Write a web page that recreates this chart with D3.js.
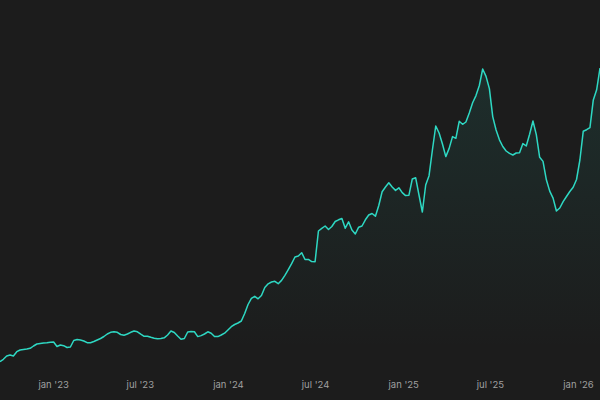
<!DOCTYPE html>
<html>
<head>
<meta charset="utf-8">
<script src="https://cdn.jsdelivr.net/npm/d3@7"></script>
<style>
  html, body { margin: 0; padding: 0; background: #1c1c1c; }
  svg { display: block; }
</style>
</head>
<body>
<svg id="chart" width="600" height="400"></svg>
<script>
// Weekly series, first week starting 2022-09-12
const startDate = "2022-09-12";
const values = [
  13.3, 15.7, 19, 20, 19, 23.3, 25, 25.5, 26, 26.7,
  29, 31, 31.5, 32, 32.3, 32.7, 33, 28.5, 30, 29.3,
  27.5, 28, 34.5, 35.5, 35, 34, 32.3, 32.3, 33.5, 35,
  36.5, 38.5, 41, 42.7, 43.3, 42.7, 40.5, 39.7, 41, 42.7,
  44, 43.2, 40.8, 38.7, 38.8, 37.7, 36.8, 36.2, 36.5, 37.2,
  40, 44, 42.5, 39, 35.8, 36.5, 43, 43.5, 43.2, 38.4,
  39.4, 41, 43.2, 41.8, 38.5, 38.4, 40, 41.8, 45, 48.3,
  50.5, 52, 54, 61.5, 70.5, 76.6, 78.7, 76.2, 79.5, 87.5,
  91.2, 93, 93.7, 91.3, 94.6, 99.6, 105.4, 111.3, 118, 119,
  122.3, 115.5, 115.6, 113.4, 113.3, 144, 146.7, 149, 145.5, 148.5,
  153.5, 155.2, 156.5, 146.8, 153.2, 145, 141, 147.8, 149, 155.2,
  160, 161.5, 158.8, 169.5, 183.2, 188, 192.2, 188, 184.6, 187.2,
  182.4, 179.4, 179.8, 196, 197.3, 180, 163, 190, 199.3, 225,
  249, 242, 231, 218.4, 226.6, 238.4, 236.7, 253.7, 250.7, 253,
  262.1, 272.2, 279.4, 289.5, 306, 298.6, 286.4, 258.4, 245, 235.2,
  228.5, 224, 221.6, 220, 222, 222.3, 231.4, 229, 240.8, 254,
  240.4, 217.7, 213.6, 195.2, 183.9, 176.9, 164, 167, 173.3, 178.5,
  183.5, 187.8, 195.5, 215, 243.7, 245.3, 247.3, 275.1, 285.2, 307
];
const tickMonths = ["2023-01-01", "2023-07-01", "2024-01-01", "2024-07-01", "2025-01-01", "2025-07-01", "2026-01-01"];

const parse = d3.timeParse("%Y-%m-%d");
const t0 = parse(startDate);
const data = values.map((v, i) => ({ date: d3.timeDay.offset(t0, i * 7), value: v }));

const W = 600, H = 400;
const svg = d3.select("#chart");

const x = d3.scaleTime()
  .domain(d3.extent(data, d => d.date))
  .range([0, W]);
const y = d3.scaleLinear()
  .domain([0, 300])
  .range([375, 75]);

svg.append("rect").attr("width", W).attr("height", H).attr("fill", "#1c1c1c");

const defs = svg.append("defs");
const grad = defs.append("linearGradient")
  .attr("id", "areaGrad")
  .attr("gradientUnits", "userSpaceOnUse")
  .attr("x1", 0).attr("x2", 0)
  .attr("y1", y(d3.max(values))).attr("y2", 350);
grad.append("stop").attr("offset", "0%").attr("stop-color", "#2dd4bf").attr("stop-opacity", 0.1);
grad.append("stop").attr("offset", "100%").attr("stop-color", "#2dd4bf").attr("stop-opacity", 0);

const area = d3.area()
  .x(d => x(d.date))
  .y0(375)
  .y1(d => y(d.value));
const line = d3.line()
  .x(d => x(d.date))
  .y(d => y(d.value));

svg.append("path").datum(data)
  .attr("d", area)
  .attr("fill", "url(#areaGrad)");

svg.append("path").datum(data)
  .attr("d", line)
  .attr("fill", "none")
  .attr("stroke", "#2ed8c3")
  .attr("stroke-width", 1.5)
  .attr("stroke-linejoin", "round");

const fmt = d3.timeFormat("%b '%y");
const axis = d3.axisBottom(x)
  .tickValues(tickMonths.map(parse))
  .tickFormat(d => fmt(d).toLowerCase())
  .tickSize(0)
  .tickPadding(0);

const g = svg.append("g").attr("transform", "translate(0,381)").call(axis);
g.select(".domain").remove();
g.selectAll("text")
  .attr("fill", "#a0a0a0")
  .attr("font-family", "Inter, 'Noto Sans', sans-serif")
  .attr("font-size", "9.5px")
  .attr("dy", "0.71em");
</script>
</body>
</html>
